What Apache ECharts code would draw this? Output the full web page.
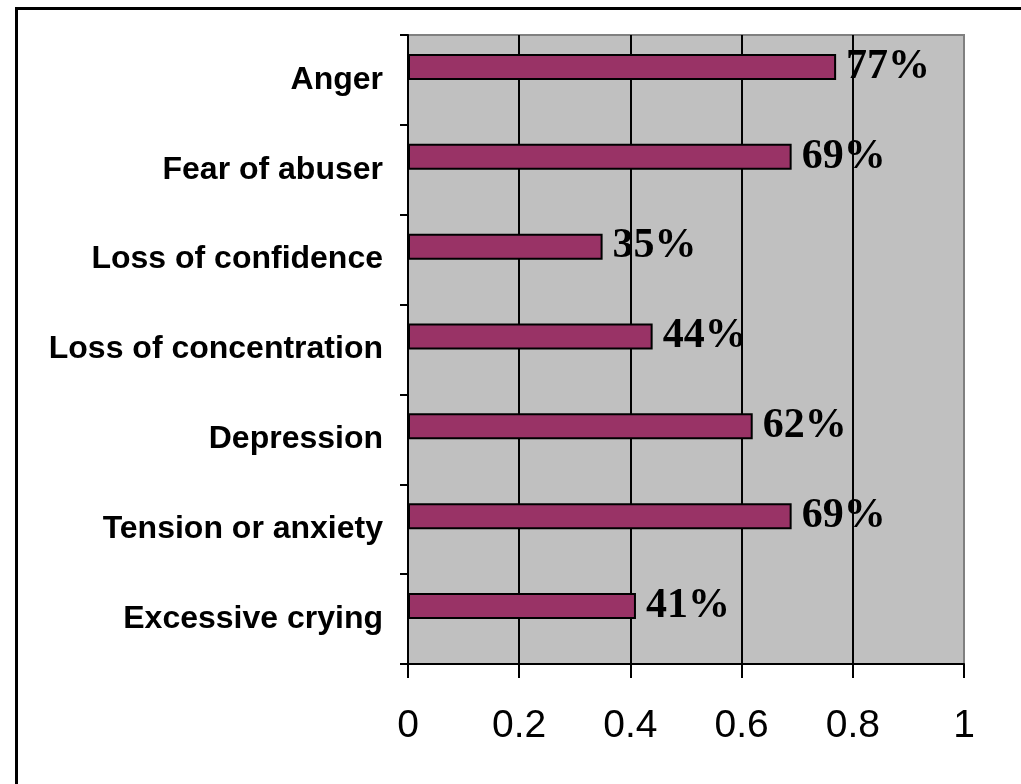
<!DOCTYPE html>
<html>
<head>
<meta charset="utf-8">
<script src="https://cdn.jsdelivr.net/npm/echarts@6/dist/echarts.min.js"></script>
<style>
html,body{margin:0;padding:0;background:#fff;}
#chart{width:1021px;height:784px;}
</style>
</head>
<body>
<div id="chart"></div>
<script>
const categories = ['Anger','Fear of abuser','Loss of confidence','Loss of concentration','Depression','Tension or anxiety','Excessive crying'];
const values = [0.77, 0.69, 0.35, 0.44, 0.62, 0.69, 0.41];
const labels = ['77%','69%','35%','44%','62%','69%','41%'];
const xTicks = [0, 0.2, 0.4, 0.6, 0.8, 1];

const chart = echarts.init(document.getElementById('chart'), null, {renderer:'canvas'});
chart.setOption({
  animation:false,
  backgroundColor:'#ffffff',
  graphic:[{
    type:'rect', shape:{x:16.5,y:8.5,width:1010,height:790},
    style:{fill:null, stroke:'#000', lineWidth:3}, z:100
  }],
  grid:{left:408,right:57,top:35,bottom:120,show:true,backgroundColor:'#C0C0C0',borderColor:'#808080',borderWidth:2},
  xAxis:{
    type:'value', min:0, max:1, interval:0.2,
    axisLine:{show:true,lineStyle:{color:'#000',width:2}},
    axisTick:{show:true,length:14,lineStyle:{color:'#000',width:2}},
    axisLabel:{margin:43,fontFamily:'Liberation Sans, Arial, sans-serif',fontSize:39,color:'#000',
      formatter:function(v){ return String(xTicks[Math.round(v/0.2)]); }},
    splitLine:{show:true,lineStyle:{color:['#000','#000','#000','#000','#000','#808080'],width:2}}
  },
  yAxis:{
    type:'category', data:categories, inverse:true,
    axisLine:{show:true,lineStyle:{color:'#000',width:2}},
    axisTick:{show:true,length:8,lineStyle:{color:'#000',width:2}},
    axisLabel:{margin:25,fontFamily:'Liberation Sans, Arial, sans-serif',fontWeight:'bold',fontSize:32,color:'#000'},
    splitLine:{show:false}
  },
  series:[{
    type:'bar', data:values, barWidth:26, barGap:'0%',
    itemStyle:{color:'#993366',borderColor:'#000',borderWidth:2},
    label:{show:true,position:'right',distance:10,
      formatter:function(p){return labels[p.dataIndex];},
      fontFamily:'Liberation Serif, Times New Roman, serif',fontWeight:'bold',fontSize:42,color:'#000'}
  },{
    type:'bar', data:values.map(function(){return null;}), barWidth:26, barGap:'0%', silent:true
  }]
});
</script>
</body>
</html>
